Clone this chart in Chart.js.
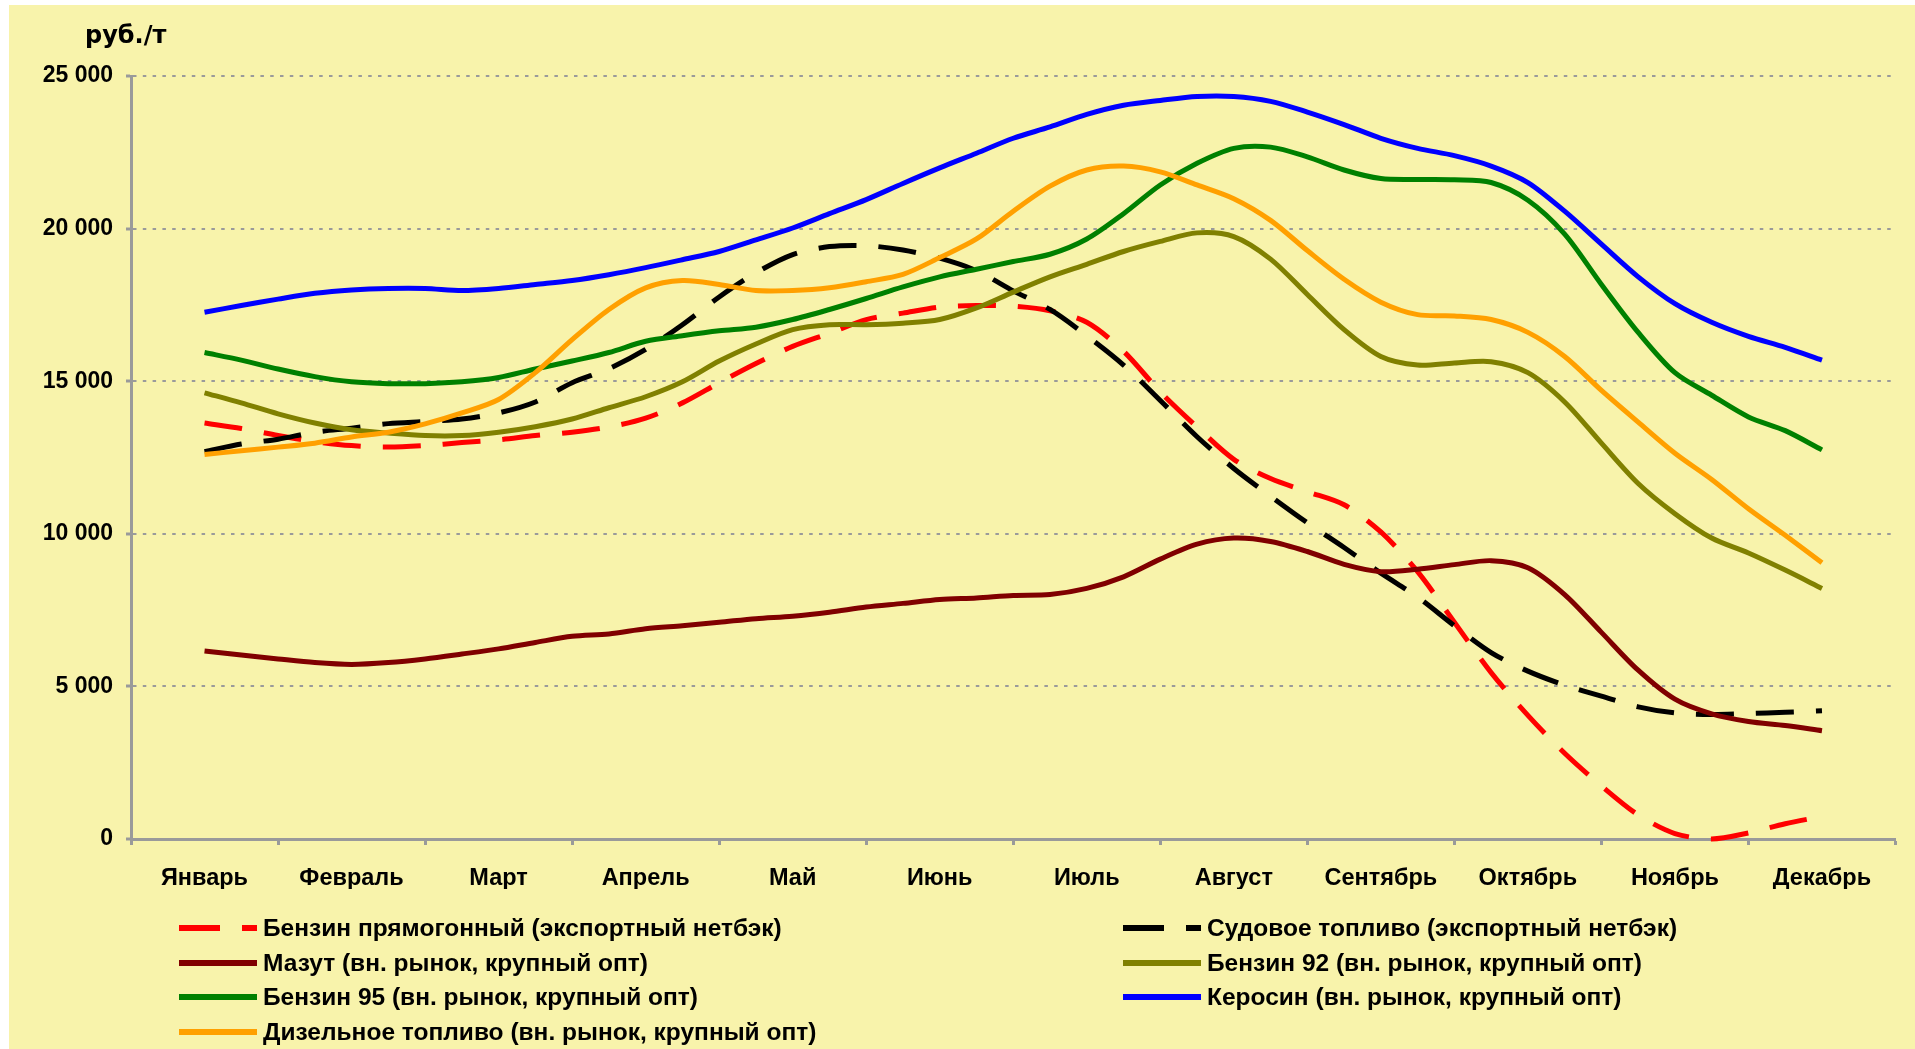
<!DOCTYPE html>
<html lang="ru">
<head>
<meta charset="utf-8">
<title>Цены на нефтепродукты</title>
<script src="https://cdn.jsdelivr.net/npm/chart.js@4.4.1/dist/chart.umd.min.js"></script>
<style>
  html, body { margin: 0; background: #fff; }
  #wrap { position: absolute; left: 9px; top: 5px; width: 1906px; height: 1044px; background: #f8f3ab; overflow: hidden; }
  #chart { position: absolute; left: 0; top: 0; }
  .unit { position: absolute; left: 76px; top: 16px; font: bold 24px "DejaVu Sans", sans-serif; color: #000; }
  .legend-item { position: absolute; height: 30px; display: flex; align-items: center;
                 font: bold 24.5px "Liberation Sans", Arial, sans-serif; color: #000; white-space: nowrap; }
  .legend-item svg { margin-right: 6px; }
</style>
</head>
<body>
<div id="wrap">
  <canvas id="chart" width="1906" height="1044"></canvas>
  <div class="unit">руб./т</div>
  <div id="legend"></div>
</div>
<script>
// months on the axis; each series has one value per quarter month (45 points)
const months = ["Январь", "Февраль", "Март", "Апрель", "Май", "Июнь",
                "Июль", "Август", "Сентябрь", "Октябрь", "Ноябрь", "Декабрь"];

const naphtha = [13630, 13450, 13220, 13020, 12890, 12840, 12890, 12990, 13080, 13220, 13330,
  13500, 13790, 14290, 14950, 15580, 16140, 16570, 17020, 17230, 17430, 17480, 17460,
  17310, 16930, 15980, 14650, 13500, 12440, 11810, 11380, 10950, 10060, 8760, 7100,
  5450, 4050, 2810, 1740, 790, 180, 0, 200, 500, 740];

const marineFuel = [12690, 12940, 13100, 13330, 13460, 13610, 13680, 13760, 13960, 14320, 14950,
  15410, 16040, 16850, 17760, 18550, 19150, 19410, 19440, 19300, 19030, 18620, 17960,
  17350, 16490, 15530, 14370, 13180, 12140, 11230, 10360, 9550, 8710, 7930, 6990,
  6110, 5500, 5040, 4680, 4330, 4130, 4080, 4110, 4150, 4200];

const fuelOil = [6160, 6030, 5900, 5780, 5720, 5780, 5900, 6060, 6230, 6440, 6640,
  6720, 6890, 6990, 7100, 7220, 7300, 7430, 7600, 7720, 7850, 7900, 7980,
  8010, 8210, 8590, 9170, 9660, 9860, 9750, 9420, 9000, 8760, 8840, 8990,
  9120, 8890, 8010, 6770, 5530, 4580, 4100, 3850, 3720, 3550];

const gasoline92 = [14620, 14290, 13930, 13630, 13410, 13300, 13220, 13220, 13330, 13510, 13760,
  14130, 14490, 14980, 15660, 16220, 16690, 16850, 16850, 16900, 17020, 17400, 17920,
  18420, 18830, 19250, 19580, 19860, 19740, 19000, 17840, 16690, 15810, 15530, 15600,
  15640, 15280, 14320, 12970, 11650, 10660, 9860, 9370, 8810, 8210];

const gasoline95 = [15940, 15690, 15400, 15150, 14980, 14920, 14920, 14980, 15120, 15400, 15660,
  15940, 16310, 16490, 16650, 16770, 17020, 17350, 17710, 18090, 18420, 18670, 18920,
  19160, 19660, 20490, 21430, 22140, 22630, 22670, 22350, 21920, 21640, 21610, 21600,
  21510, 20930, 19820, 18170, 16600, 15280, 14540, 13830, 13380, 12750];

const kerosene = [17260, 17480, 17690, 17880, 17990, 18040, 18040, 17970, 18040, 18170, 18300,
  18490, 18720, 18980, 19250, 19630, 20020, 20490, 20950, 21480, 21990, 22470, 22960,
  23330, 23740, 24040, 24200, 24330, 24330, 24170, 23820, 23410, 22960, 22630, 22390,
  22050, 21510, 20570, 19490, 18420, 17540, 16930, 16470, 16110, 15690];

const diesel = [12600, 12720, 12840, 12970, 13170, 13330, 13600, 13960, 14400, 15280, 16360,
  17350, 18060, 18300, 18170, 17970, 17970, 18060, 18260, 18500, 19050, 19660, 20570,
  21390, 21920, 22050, 21860, 21430, 20980, 20270, 19280, 18340, 17590, 17180, 17140,
  17020, 16600, 15810, 14700, 13660, 12640, 11780, 10820, 9950, 9050];

const seriesNames = [
  "Бензин прямогонный (экспортный нетбэк)",
  "Судовое топливо (экспортный нетбэк)",
  "Мазут (вн. рынок, крупный опт)",
  "Бензин 92 (вн. рынок, крупный опт)",
  "Бензин 95 (вн. рынок, крупный опт)",
  "Керосин (вн. рынок, крупный опт)",
  "Дизельное топливо (вн. рынок, крупный опт)"
];
const seriesValues = [naphtha, marineFuel, fuelOil, gasoline92, gasoline95, kerosene, diesel];
const seriesColors = ["#ff0000", "#000000", "#800000", "#808000", "#008000", "#0000ff", "#ffa000"];
const seriesDashed = [true, true, false, false, false, false, false];

const yTicks = [0, 5000, 10000, 15000, 20000, 25000];

const FONT = { family: '"Liberation Sans", Arial, sans-serif', size: 23, weight: 'bold' };
const X_FONT = { family: '"Liberation Sans", Arial, sans-serif', size: 23.5, weight: 'bold' };
const AXIS_GREY = '#9a9a9a';

function fmt(v) {
  return String(v).replace(/\B(?=(\d{3})+(?!\d))/g, ' ');
}

const datasets = seriesValues.map((vals, i) => ({
  label: seriesNames[i],
  data: vals.map((v, k) => ({ x: k / 4, y: v })),
  borderColor: seriesColors[i],
  borderWidth: 5,
  borderDash: seriesDashed[i] ? [38, 22] : [],
  borderCapStyle: 'butt',
  pointRadius: 0,
  tension: 0.3,
  fill: false,
  clip: false,
  order: seriesValues.length - i
}));

const chart = new Chart(document.getElementById('chart'), {
  type: 'line',
  data: { datasets },
  options: {
    responsive: false,
    animation: false,
    events: [],
    layout: { padding: { left: 0, top: 71, right: 19.5, bottom: 160 } },
    plugins: { legend: { display: false }, tooltip: { enabled: false } },
    scales: {
      x: {
        type: 'linear',
        min: -0.5,
        max: 11.5,
        afterFit: s => { s.height = 50; },
        ticks: {
          stepSize: 1,
          autoSkip: false,
          maxRotation: 0,
          labelOffset: 73.5,
          padding: 19,
          color: '#000',
          font: X_FONT,
          callback: v => months[Math.round(v + 0.5)] ?? ''
        },
        grid: { drawOnChartArea: false, drawTicks: true, tickLength: 6, tickWidth: 3, tickColor: AXIS_GREY },
        border: { color: AXIS_GREY, width: 3 }
      },
      y: {
        min: yTicks[0],
        max: yTicks[yTicks.length - 1],
        afterFit: s => { s.width = 122; },
        afterBuildTicks: s => { s.ticks = yTicks.map(v => ({ value: v })); },
        ticks: { padding: 13, color: '#000', font: FONT, callback: v => fmt(v) },
        grid: { color: AXIS_GREY, lineWidth: 2, tickLength: 5, tickWidth: 3, tickColor: AXIS_GREY },
        border: { color: AXIS_GREY, width: 3, dash: [3.5, 6.3] }
      }
    }
  }
});

// legend in two columns, filled row by row
const legendEl = document.getElementById('legend');
chart.data.datasets.forEach((ds, i) => {
  const col = i % 2, row = Math.floor(i / 2);
  const item = document.createElement('div');
  item.className = 'legend-item';
  item.style.left = (col === 0 ? 170 : 1114) + 'px';
  item.style.top = (908 + row * 34.7) + 'px';
  const dash = ds.borderDash.length ? 'stroke-dasharray="41 22"' : '';
  item.innerHTML = `<svg width="78" height="10"><line x1="0" y1="5" x2="78" y2="5" stroke="${ds.borderColor}" stroke-width="6" ${dash}/></svg><span>${ds.label}</span>`;
  legendEl.appendChild(item);
});
</script>
</body>
</html>
